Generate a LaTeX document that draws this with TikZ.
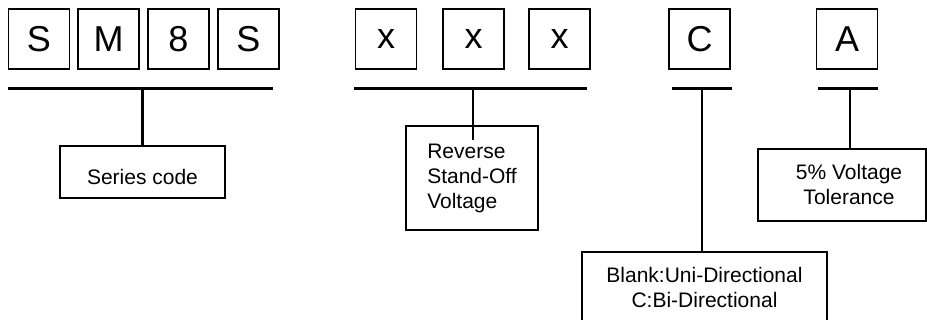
\documentclass[tikz,border=0pt]{standalone}
\usepackage{fontspec}
\setmainfont{Liberation Sans}
\usetikzlibrary{positioning,calc}
\tikzset{
  letter/.style={draw,line width=0.85pt,minimum width=30.5pt,minimum height=30pt,
    inner sep=0pt,font=\fontsize{18}{20}\selectfont},
  descbox/.style={draw,line width=0.85pt,inner sep=0pt,
    font=\fontsize{10.5}{12.5}\selectfont},
  bar/.style={line width=1.1pt}
}

\begin{document}
\begin{tikzpicture}[x=0.5pt,y=0.5pt]
  \useasboundingbox (0,0) rectangle (927,320);
  % code letters
  \foreach \x/\lab/\nm in {39/S/sa,108.5/M/sb,178.5/8/sc,248.5/S/sd,
      386/x/va,473.5/x/vb,559.5/x/vc,699.5/C/dir,847/A/tol}
    \node[letter] (\nm) at (\x,281) {\lab};
  % series code
  \coordinate (seriesL) at (8,231.5);
  \coordinate (seriesR) at (273,231.5);
  \node[descbox,minimum width=82.5pt,minimum height=26pt,text height=12.5pt,text depth=0pt]
    (series) at (142.5,148) {Series code};
  \draw[bar] (seriesL) -- (seriesR);
  \draw[bar] (series.north) -- (series.north |- seriesL);
  % reverse stand-off voltage
  \coordinate (voltL) at (354,231.5);
  \coordinate (voltR) at (587,231.5);
  \coordinate (voltEnd) at (473,180);
  \node[descbox,align=left,minimum width=66pt,minimum height=52pt] (volt) at (472,142)
    {Reverse\\Stand-Off\\Voltage};
  \draw[bar] (voltL) -- (voltR);
  \draw[bar] (voltEnd) -- (voltEnd |- voltL);
  % direction
  \coordinate (dirL) at (672,231.5);
  \coordinate (dirR) at (732,231.5);
  \coordinate (dirTap) at (702,231.5);
  \node[descbox,align=center,minimum width=122.5pt,minimum height=35.5pt] (blank) at (704.5,32.5)
    {Blank:Uni-Directional\\C:Bi-Directional};
  \draw[bar] (dirL) -- (dirR);
  \draw[bar] (dirTap) -- (dirTap |- blank.north);
  % tolerance
  \coordinate (tolL) at (818,231.5);
  \coordinate (tolR) at (878,231.5);
  \coordinate (tolTap) at (850,231.5);
  \node[descbox,align=center,minimum width=84pt,minimum height=36pt] (tolbox) at (842,135)
    {\hspace*{7pt}5\% Voltage\\\hspace*{7pt}Tolerance};
  \draw[bar] (tolL) -- (tolR);
  \draw[bar] (tolTap) -- (tolTap |- tolbox.north);
\end{tikzpicture}
\end{document}
